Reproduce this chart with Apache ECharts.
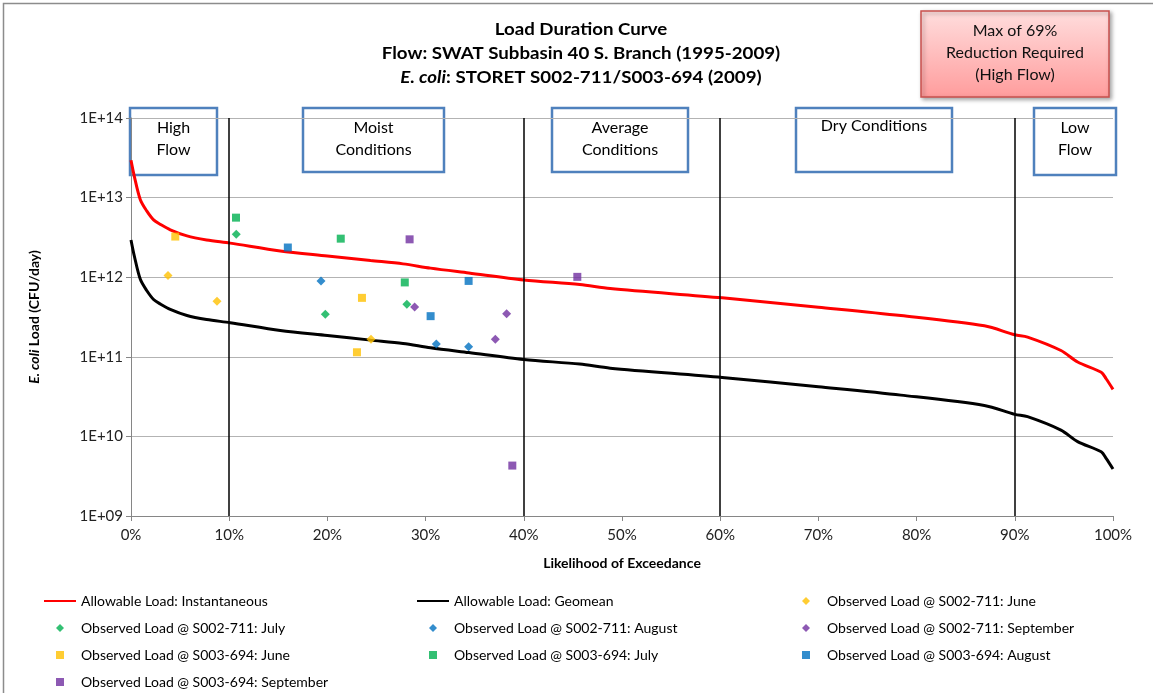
<!DOCTYPE html>
<html>
<head>
<meta charset="utf-8">
<title>Load Duration Curve</title>
<script src="https://cdn.jsdelivr.net/npm/echarts@6/dist/echarts.min.js"></script>
<style>
  html, body { margin: 0; padding: 0; background: #fff; }
  #chart { width: 1153px; height: 693px; }
</style>
</head>
<body>
<div id="chart"></div>
<script>
// flow duration: % of time exceeded
const exceedPct = [0, 0.35, 0.95, 1.6, 2.3, 3.0, 4.0, 5.7, 7.7, 10.1, 15.2, 20, 24.4, 27.7, 30.5, 34.4, 40, 45.7, 48.8, 60.2, 70, 78.4, 86.9, 90, 91.3, 94.7, 96.4, 98.8, 99.3, 100];
// allowable loads (CFU/day)
const instLoad = [2.94e13, 1.82e13, 9.4e12, 6.8e12, 5.25e12, 4.6e12, 3.94e12, 3.3e12, 2.94e12, 2.68e12, 2.14e12, 1.85e12, 1.62e12, 1.47e12, 1.30e12, 1.13e12, 9.25e11, 8.1e11, 7.2e11, 5.5e11, 4.2e11, 3.3e11, 2.45e11, 1.89e11, 1.77e11, 1.2e11, 8.6e10, 6.4e10, 5.3e10, 3.9e10];
const geoLoad = [2.94e12, 1.82e12, 9.4e11, 6.8e11, 5.25e11, 4.6e11, 3.94e11, 3.3e11, 2.94e11, 2.68e11, 2.14e11, 1.85e11, 1.62e11, 1.47e11, 1.30e11, 1.13e11, 9.25e10, 8.1e10, 7.2e10, 5.5e10, 4.2e10, 3.3e10, 2.45e10, 1.89e10, 1.77e10, 1.2e10, 8.6e9, 6.4e9, 5.3e9, 3.9e9];

// observed loads [exceedance %, CFU/day]
const s002June = [[3.77, 1.05e12], [8.76, 5.0e11], [24.44, 1.66e11]];
const s002July = [[10.72, 3.47e12], [19.79, 3.43e11], [28.09, 4.57e11]];
const s002Aug = [[19.35, 8.98e11], [31.09, 1.45e11], [34.38, 1.34e11]];
const s002Sep = [[28.88, 4.23e11], [37.1, 1.66e11], [38.25, 3.48e11]];
const s003June = [[4.51, 3.24e12], [23.52, 5.5e11], [23.01, 1.14e11]];
const s003July = [[10.69, 5.6e12], [21.36, 3.05e12], [27.88, 8.6e11]];
const s003Aug = [[15.97, 2.36e12], [30.51, 3.24e11], [34.38, 8.98e11]];
const s003Sep = [[28.37, 2.99e12], [45.45, 1.01e12], [38.83, 4.3e9]];

// flow zone boundaries
const zoneBounds = [10, 40, 60, 90];

const FONT = 'Lato';
const DIAMOND = 'path://M5,0 L10,5 L5,10 L0,5 Z';
const SQUARE = 'path://M0,0 L10,0 L10,10 L0,10 Z';
const chart = echarts.init(document.getElementById('chart'));

const toPairs = (ys) => exceedPct.map((x, i) => [x, ys[i]]);

function scatter(name, data, symbol, color) {
  return {
    name: name,
    type: 'scatter',
    data: data,
    symbol: symbol,
    symbolSize: symbol === 'diamond' ? 9 : 8,
    itemStyle: { color: color },
    z: 5
  };
}

// condition boxes across the top of the plot
function zoneBox(x, w, h, lines) {
  return {
    type: 'group',
    z: 100,
    children: [
      {
        type: 'rect',
        shape: { x: x, y: 108, width: w, height: h },
        style: { fill: '#fff', stroke: '#4F81BD', lineWidth: 2.5 }
      },
      {
        type: 'text',
        x: x + w / 2,
        y: lines.length > 1 ? 139 : 126,
        style: {
          text: lines.join('\n'),
          align: 'center',
          verticalAlign: 'middle',
          fontFamily: FONT,
          fontSize: 16,
          lineHeight: 22,
          fill: '#000'
        }
      }
    ]
  };
}

function titleLine(text, y, rich) {
  return {
    type: 'text',
    x: 581,
    y: y,
    scaleX: 1.1,
    z: 100,
    style: {
      text: text,
      align: 'center',
      verticalAlign: 'middle',
      fontFamily: FONT,
      fontSize: 17,
      fontWeight: 'bold',
      fill: '#000',
      rich: rich
    }
  };
}

const legendBase = {
  orient: 'vertical',
  top: 593,
  padding: 0,
  itemWidth: 32,
  itemHeight: 8,
  itemGap: 11,
  align: 'left',
  symbolKeepAspect: true,
  selectedMode: false,
  textStyle: { fontFamily: FONT, fontSize: 14, color: '#000', lineHeight: 16 }
};
const lineItem = (name) => ({ name: name, itemStyle: { opacity: 0 } });
const markItem = (name, icon) => ({ name: name, icon: icon });

const option = {
  animation: false,
  backgroundColor: '#fff',
  grid: { left: 131, right: 40, top: 118, bottom: 177 },
  xAxis: {
    type: 'value',
    min: 0,
    max: 100,
    interval: 10,
    name: 'Likelihood of Exceedance',
    nameLocation: 'middle',
    nameGap: 40,
    nameTextStyle: { fontFamily: FONT, fontSize: 14, fontWeight: 'bold', color: '#000' },
    axisLine: { lineStyle: { color: '#868686', width: 1 } },
    axisTick: { show: true, length: 5, lineStyle: { color: '#868686' } },
    axisLabel: { fontFamily: FONT, fontSize: 15, color: '#222', margin: 12, formatter: (v) => v + '%' },
    splitLine: { show: false }
  },
  yAxis: {
    type: 'log',
    logBase: 10,
    min: 1e9,
    max: 1e14,
    name: '{i|E. coli} Load (CFU/day)',
    nameLocation: 'middle',
    nameGap: 90,
    nameTextStyle: {
      fontFamily: FONT, fontSize: 14, fontWeight: 'bold', color: '#000',
      rich: { i: { fontFamily: FONT, fontSize: 14, fontWeight: 'bold', fontStyle: 'italic', color: '#000' } }
    },
    axisLine: { show: true, lineStyle: { color: '#868686', width: 1 } },
    axisTick: { show: true, length: 5, lineStyle: { color: '#868686' } },
    axisLabel: {
      fontFamily: FONT, fontSize: 15, color: '#222', margin: 8,
      formatter: (v) => {
        const e = Math.round(Math.log10(v));
        return '1E+' + (e < 10 ? '0' + e : e);
      }
    },
    splitLine: { show: true, lineStyle: { color: '#b3b3b3', width: 1 } }
  },
  legend: [
    Object.assign({}, legendBase, {
      left: 43,
      data: [
        lineItem('Allowable Load: Instantaneous'),
        markItem('Observed Load @ S002-711: July', DIAMOND),
        markItem('Observed Load @ S003-694: June', SQUARE),
        markItem('Observed Load @ S003-694: September', SQUARE)
      ]
    }),
    Object.assign({}, legendBase, {
      left: 416,
      data: [
        lineItem('Allowable Load: Geomean'),
        markItem('Observed Load @ S002-711: August', DIAMOND),
        markItem('Observed Load @ S003-694: July', SQUARE)
      ]
    }),
    Object.assign({}, legendBase, {
      left: 802,
      data: [
        markItem('Observed Load @ S002-711: June', DIAMOND),
        markItem('Observed Load @ S002-711: September', DIAMOND),
        markItem('Observed Load @ S003-694: August', SQUARE)
      ]
    })
  ],
  series: [
    {
      name: 'Allowable Load: Instantaneous',
      type: 'line',
      data: toPairs(instLoad),
      symbol: 'none',
      smooth: 0.3,
      lineStyle: { color: '#FF0000', width: 3 },
      itemStyle: { color: '#FF0000' },
      z: 3,
      markLine: {
        silent: true,
        symbol: 'none',
        label: { show: false },
        lineStyle: { color: '#000', width: 1.5, type: 'solid' },
        data: zoneBounds.map((v) => ({ xAxis: v }))
      }
    },
    {
      name: 'Allowable Load: Geomean',
      type: 'line',
      data: toPairs(geoLoad),
      symbol: 'none',
      smooth: 0.3,
      lineStyle: { color: '#000', width: 3 },
      itemStyle: { color: '#000' },
      z: 3
    },
    scatter('Observed Load @ S002-711: June', s002June, 'diamond', '#FFC000'),
    scatter('Observed Load @ S002-711: July', s002July, 'diamond', '#00B050'),
    scatter('Observed Load @ S002-711: August', s002Aug, 'diamond', '#0070C0'),
    scatter('Observed Load @ S002-711: September', s002Sep, 'diamond', '#7030A0'),
    scatter('Observed Load @ S003-694: June', s003June, 'rect', '#FFC000'),
    scatter('Observed Load @ S003-694: July', s003July, 'rect', '#00B050'),
    scatter('Observed Load @ S003-694: August', s003Aug, 'rect', '#0070C0'),
    scatter('Observed Load @ S003-694: September', s003Sep, 'rect', '#7030A0')
  ],
  graphic: [
    {
      type: 'rect',
      z: 0,
      shape: { x: 3.5, y: 3.5, width: 1170, height: 710 },
      style: { fill: 'none', stroke: '#8c8c8c', lineWidth: 1.5 }
    },
    titleLine('Load Duration Curve', 30),
    titleLine('Flow: SWAT Subbasin 40 S. Branch (1995-2009)', 54),
    titleLine('{i|E. coli}: STORET S002-711/S003-694 (2009)', 78, {
      i: { fontFamily: FONT, fontSize: 17, fontWeight: 'bold', fontStyle: 'italic', fill: '#000' }
    }),
    {
      type: 'group',
      z: 100,
      children: [
        {
          type: 'rect',
          shape: { x: 921, y: 11, width: 188, height: 86 },
          style: {
            fill: new echarts.graphic.LinearGradient(0, 0, 0, 1, [
              { offset: 0, color: '#FFDEDE' },
              { offset: 1, color: '#FF9C9C' }
            ]),
            stroke: '#C9504D',
            lineWidth: 1.5,
            shadowBlur: 4,
            shadowOffsetX: 2,
            shadowOffsetY: 2,
            shadowColor: 'rgba(0,0,0,0.35)'
          }
        },
        {
          type: 'text',
          x: 1015,
          y: 53,
          style: {
            text: 'Max of 69%\nReduction Required\n(High Flow)',
            align: 'center',
            verticalAlign: 'middle',
            fontFamily: FONT,
            fontSize: 16,
            lineHeight: 22,
            fill: '#111'
          }
        }
      ]
    },
    zoneBox(130, 87, 67, ['High', 'Flow']),
    zoneBox(303, 141, 64, ['Moist', 'Conditions']),
    zoneBox(552, 136, 64, ['Average', 'Conditions']),
    zoneBox(796, 156, 64, ['Dry Conditions']),
    zoneBox(1034, 82, 67, ['Low', 'Flow'])
  ]
};

chart.setOption(option);
</script>
</body>
</html>
